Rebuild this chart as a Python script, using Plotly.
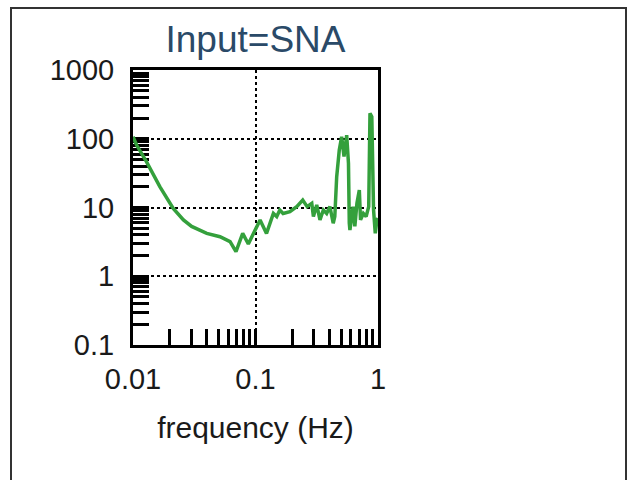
import plotly.graph_objects as go

freq = [0.01, 0.0107, 0.0129, 0.0166, 0.0213, 0.0258, 0.0301, 0.040, 0.0513, 0.062,
        0.0693, 0.0786, 0.0874, 0.105, 0.109, 0.123, 0.140, 0.149, 0.158, 0.168,
        0.191, 0.217, 0.243, 0.264, 0.288, 0.297, 0.316, 0.336, 0.358, 0.381,
        0.405, 0.431, 0.444, 0.460, 0.483, 0.505, 0.528, 0.555, 0.574, 0.583,
        0.590, 0.626, 0.647, 0.673, 0.704, 0.720, 0.759, 0.800, 0.840, 0.860,
        0.890, 0.920, 0.950, 0.980, 1.0]
response = [107, 81, 46, 20, 9.7, 6.6, 5.3, 4.2, 3.76, 3.18,
            2.28, 4.2, 2.94, 5.9, 6.6, 4.2, 8.2, 7.4, 9.2, 8.2,
            8.7, 10.3, 12.8, 10.3, 11.5, 7.4, 10.9, 6.6, 9.2, 8.2,
            10.3, 5.9, 7.4, 28, 68.6, 107, 55, 113, 44, 5.9,
            4.7, 10.3, 5.3, 11.5, 18, 6.6, 8.2, 7.4, 10.3, 234,
            210, 9.2, 4.2, 6.6, 7]

x_tickvals = [0.01, 0.1, 1]
x_ticktext = ["0.01", "0.1", "1"]
y_tickvals = [0.1, 1, 10, 100, 1000]
y_ticktext = ["0.1", "1", "10", "100", "1000"]

title_text = "Input=SNA"
x_title = "frequency (Hz)"

FONT = "Arial, Liberation Sans, sans-serif"

fig = go.Figure()
fig.add_trace(go.Scatter(x=freq, y=response, mode="lines",
                         line=dict(color="#34a03c", width=3.5), showlegend=False))

axis_common = dict(
    type="log",
    showline=True, linecolor="black", linewidth=3, mirror=True,
    ticks="inside", ticklen=16, tickwidth=3, tickcolor="black",
    showgrid=True, gridcolor="black", gridwidth=1.5, griddash="dot",
    zeroline=False, layer="below traces",
    tickfont=dict(family=FONT, size=29, color="#1a1a1a"),
    minor=dict(ticks="inside", ticklen=16, tickwidth=3, tickcolor="black",
               dtick="D1", showgrid=False),
)

fig.update_xaxes(**axis_common, range=[-2, 0], tickmode="array",
                 tickvals=x_tickvals, ticktext=x_ticktext,
                 ticklabelstandoff=6,
                 title=dict(text=x_title, font=dict(family=FONT, size=30, color="#1a1a1a"),
                            standoff=24))
fig.update_yaxes(**axis_common, range=[-1, 3], tickmode="array",
                 tickvals=y_tickvals, ticktext=y_ticktext,
                 ticklabelstandoff=10)

fig.add_shape(type="rect", xref="paper", yref="paper",
              x0=(11 - 133) / 245, x1=(626 - 133) / 245,
              y0=(345 - 500) / 275, y1=(345 - 8) / 275,
              line=dict(color="#333333", width=2), layer="below")

fig.update_layout(
    width=631, height=480,
    margin=dict(l=133, r=253, t=70, b=135),
    paper_bgcolor="white", plot_bgcolor="white",
    title=dict(text=title_text, x=0.5, xref="paper", xanchor="center",
               y=1 - 39 / 480, yref="container", yanchor="middle",
               font=dict(family=FONT, size=37, color="#2a4a68")),
)

fig.write_html("out.html")
